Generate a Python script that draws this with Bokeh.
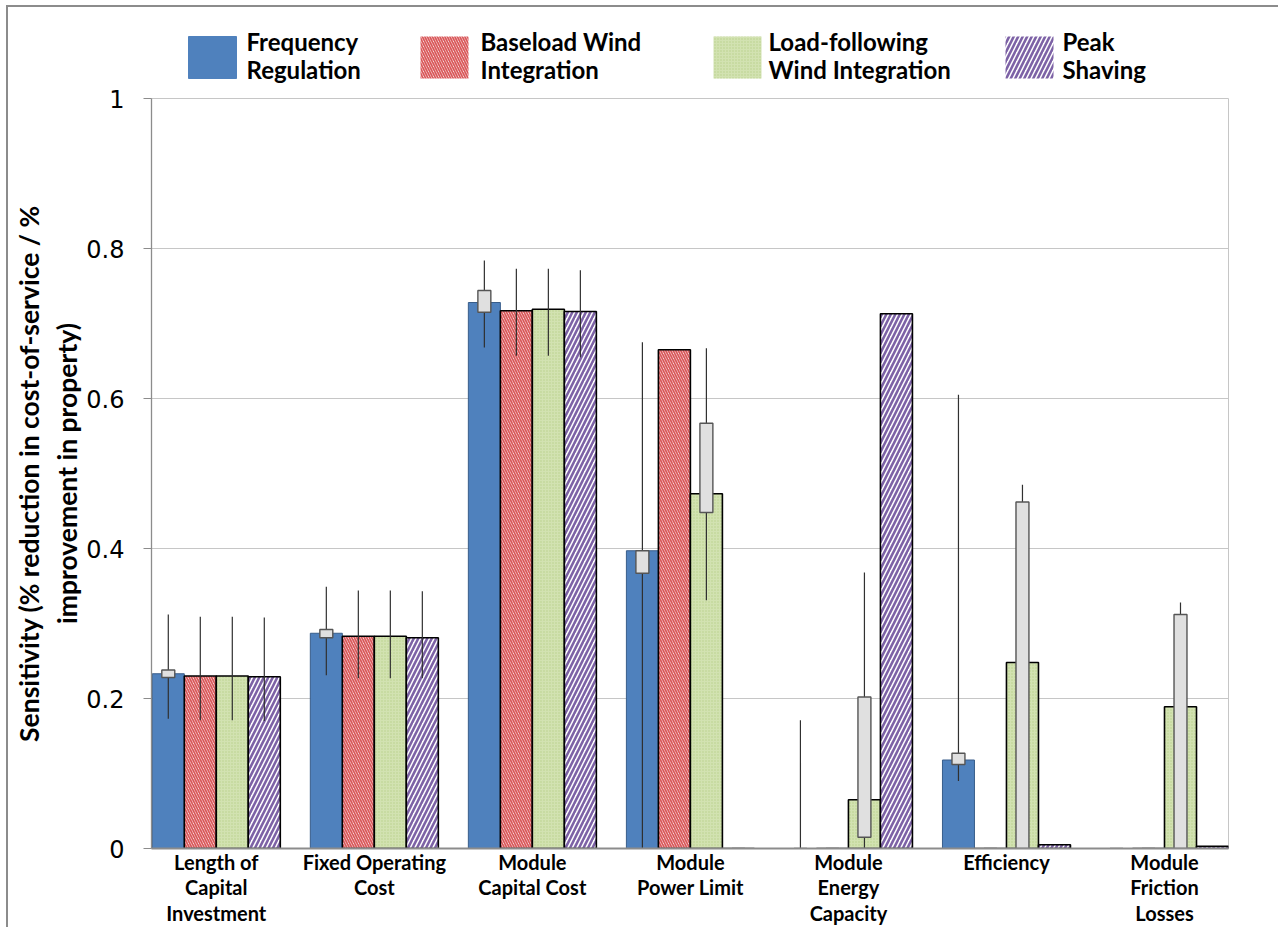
import numpy as np
from bokeh.plotting import figure
from bokeh.models import ColumnDataSource, FixedTicker, Range1d, NumeralTickFormatter, LinearAxis
from bokeh.layouts import column
from bokeh.core.properties import value
from bokeh.embed import file_html
from bokeh.resources import INLINE

NaN = float("nan")

# ---------------- data ----------------
categories = [
    "Length of\nCapital\nInvestment",
    "Fixed Operating\nCost",
    "Module\nCapital Cost",
    "Module\nPower Limit",
    "Module\nEnergy\nCapacity",
    "Efficiency",
    "Module\nFriction\nLosses",
]
series_names = [
    ["Frequency", "Regulation"],
    ["Baseload Wind", "Integration"],
    ["Load-following", "Wind Integration"],
    ["Peak", "Shaving"],
]
y_title_lines = ["Sensitivity (% reduction in cost-of-service / %", "improvement in property)"]

freq_reg = [0.233, 0.287, 0.728, 0.397, 0.0, 0.118, 0.0]
baseload = [0.230, 0.283, 0.717, 0.665, 0.0, 0.0, 0.0]
loadfollow = [0.230, 0.283, 0.719, 0.473, 0.065, 0.248, 0.189]
peak = [0.229, 0.281, 0.716, 0.0, 0.713, 0.005, 0.003]

# whisker (low, high)
freq_wlo = [0.173, 0.231, 0.668, 0.0, 0.0, 0.090, NaN]
freq_whi = [0.312, 0.349, 0.784, 0.675, 0.171, 0.605, NaN]
base_wlo = [0.171, 0.227, 0.657, NaN, NaN, NaN, NaN]
base_whi = [0.309, 0.344, 0.773, NaN, NaN, NaN, NaN]
load_wlo = [0.171, 0.227, 0.657, 0.331, 0.0, 0.0, 0.0]
load_whi = [0.309, 0.344, 0.773, 0.667, 0.368, 0.485, 0.328]
peak_wlo = [0.170, 0.227, 0.655, NaN, NaN, NaN, NaN]
peak_whi = [0.308, 0.343, 0.771, NaN, NaN, NaN, NaN]

# box (low, high)
freq_blo = [0.228, 0.281, 0.715, 0.367, 0.0, 0.112, 0.0]
freq_bhi = [0.238, 0.292, 0.744, 0.397, 0.0, 0.127, 0.0]
base_blo = [NaN, NaN, NaN, NaN, 0.0, 0.0, 0.0]
base_bhi = [NaN, NaN, NaN, NaN, 0.0, 0.0, 0.0]
load_blo = [NaN, NaN, NaN, 0.448, 0.015, 0.0, 0.0]
load_bhi = [NaN, NaN, NaN, 0.567, 0.202, 0.462, 0.312]
peak_blo = [NaN, NaN, NaN, 0.0, NaN, NaN, NaN]
peak_bhi = [NaN, NaN, NaN, 0.0, NaN, NaN, NaN]

y_ticks = [0, 0.2, 0.4, 0.6, 0.8, 1]

values = [freq_reg, baseload, loadfollow, peak]
wlo = [freq_wlo, base_wlo, load_wlo, peak_wlo]
whi = [freq_whi, base_whi, load_whi, peak_whi]
blo = [freq_blo, base_blo, load_blo, peak_blo]
bhi = [freq_bhi, base_bhi, load_bhi, peak_bhi]

# ---------------- styles ----------------
BAR_W = 0.2025
BOX_W = 0.082
styles = [
    dict(fill_color="#4f81bd", line_color="#385d8a", line_width=1),
    dict(fill_color="white", line_color="black", line_width=1.6,
         hatch_pattern="left_diagonal_line", hatch_color="#d9585a",
         hatch_scale=5, hatch_weight=1.8),
    dict(fill_color="#d2e2b1", line_color="black", line_width=1.6,
         hatch_pattern="dot", hatch_color="#b9d08c",
         hatch_scale=3, hatch_weight=1),
    dict(fill_color="white", line_color="black", line_width=1.6,
         hatch_pattern="right_diagonal_line", hatch_color="#7d62a6",
         hatch_scale=9, hatch_weight=2.6),
]

FONT = "Lato"
W = 1270
BL, BR = 143, 50          # side borders -> frame spans page x 151..1228
FX0, FX1 = 151, 1228
X0, X1 = -0.41, 6.405

# ---------------- legend figure (frame aligned with main frame) ----------------
LH = 77
LY0, LY1 = 7, 7 + LH
leg = figure(width=W, height=LH, x_range=Range1d(FX0, FX1), y_range=Range1d(LY1, LY0),
             toolbar_location=None, output_backend="svg",
             min_border_left=BL, min_border_right=BR, min_border_top=0, min_border_bottom=0)
leg.axis.visible = False
leg.grid.visible = False
leg.outline_line_color = None
leg.background_fill_color = None
leg.border_fill_color = None

sw_left = [188, 420, 713, 1005]
sw_w = 48
txt_x = [246, 480, 768, 1062]
for k in range(4):
    st = dict(styles[k])
    st["line_color"] = "#4f81bd" if k == 0 else None
    leg.quad(left=[sw_left[k]], right=[sw_left[k] + sw_w], top=[36], bottom=[78], **st)
    leg.text(x=[txt_x[k], txt_x[k]], y=[41, 69], text=series_names[k],
             text_font=value(FONT), text_font_style="bold", text_font_size="24px",
             text_baseline="middle", text_align="left", text_color="black")

# ---------------- main figure ----------------
H = 843
p = figure(width=W, height=H, x_range=Range1d(X0, X1), y_range=Range1d(0, 1),
           toolbar_location=None, output_backend="svg",
           min_border_left=BL, min_border_right=BR, min_border_top=14, min_border_bottom=79)
p.border_fill_color = None

xs = np.arange(len(categories), dtype=float)
for k in range(4):
    off = (k - 1.5) * BAR_W
    src = ColumnDataSource(dict(x=xs + off, top=values[k]))
    p.vbar(x="x", top="top", bottom=0, width=BAR_W, source=src, **styles[k])

for k in range(4):
    off = (k - 1.5) * BAR_W
    src = ColumnDataSource(dict(x=xs + off, lo=wlo[k], hi=whi[k]))
    p.segment(x0="x", y0="lo", x1="x", y1="hi", source=src,
              line_color="#303030", line_width=1.2)

for k in range(4):
    off = (k - 1.5) * BAR_W
    src = ColumnDataSource(dict(l=xs + off - BOX_W / 2, r=xs + off + BOX_W / 2,
                                lo=blo[k], hi=bhi[k]))
    p.quad(left="l", right="r", bottom="lo", top="hi", source=src,
           fill_color="#e0e0e0", line_color="#555555", line_width=1.4)

# grid / frame
p.xgrid.grid_line_color = None
p.ygrid.grid_line_color = "#c6c6c6"
p.ygrid.grid_line_width = 1
p.outline_line_color = "#c6c6c6"
p.outline_line_width = 1

# y axis (title line 2 on this axis)
p.yaxis.ticker = FixedTicker(ticks=y_ticks)
p.yaxis.formatter = NumeralTickFormatter(format="0.[0]")
p.yaxis.major_label_text_font = "DejaVu Sans"
p.yaxis.major_label_text_font_size = "24px"
p.yaxis.major_label_text_color = "black"
p.yaxis.major_tick_out = 8
p.yaxis.major_tick_in = 0
p.yaxis.minor_tick_line_color = None
p.yaxis.major_tick_line_color = "#8c8c8c"
p.yaxis.axis_line_color = "#8c8c8c"
p.yaxis.axis_line_width = 1.3
p.yaxis.major_label_standoff = 19
p.yaxis.axis_label = y_title_lines[1]
p.yaxis.axis_label_standoff = 0

# outer title axis (title line 1)
title_axis = LinearAxis(ticker=FixedTicker(ticks=[]), axis_label=y_title_lines[0],
                        axis_line_color=None, major_tick_line_color=None,
                        minor_tick_line_color=None, major_tick_out=0, major_tick_in=0,
                        minor_tick_out=0, major_label_standoff=0, axis_label_standoff=4)
p.add_layout(title_axis, "left")

for ax in (p.yaxis[0], title_axis):
    ax.axis_label_text_font = FONT
    ax.axis_label_text_font_style = "bold"
    ax.axis_label_text_font_size = "26.5px"
    ax.axis_label_text_color = "black"

# x axis with multi-line category labels
p.xaxis.ticker = FixedTicker(ticks=list(range(len(categories))))
p.xaxis.major_label_overrides = {i: c for i, c in enumerate(categories)}
p.xaxis.major_label_text_font = FONT
p.xaxis.major_label_text_font_style = "bold"
p.xaxis.major_label_text_font_size = "20px"
p.xaxis.major_label_text_color = "black"
p.xaxis.major_label_text_line_height = 1.07
p.xaxis.major_label_standoff = 1
p.xaxis.major_tick_line_color = None
p.xaxis.major_tick_out = 0
p.xaxis.minor_tick_line_color = None
p.xaxis.axis_line_color = "#8c8c8c"
p.xaxis.axis_line_width = 2.2

layout = column(leg, p, spacing=0,
                styles={"margin-left": "6px", "margin-top": "5px",
                        "border-left": "2px solid #8c8c8c", "border-top": "2px solid #8c8c8c"})

open("out.html", "w").write(file_html(layout, INLINE))
